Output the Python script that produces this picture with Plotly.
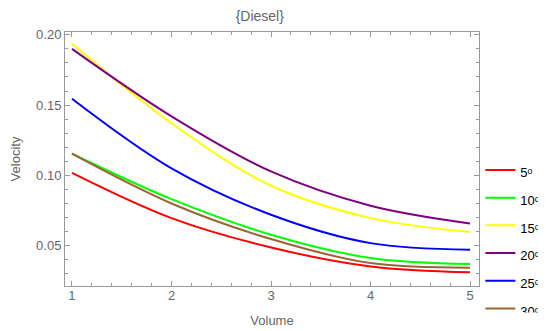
import plotly.graph_objects as go

volume = [1, 2, 3, 4, 5]
angles = ["5", "10", "15", "20", "25", "30"]
v5 = [0.1018, 0.0696, 0.0487, 0.0352, 0.0310]
v10 = [0.1154, 0.0831, 0.0578, 0.0412, 0.0369]
v15 = [0.1936, 0.1370, 0.0926, 0.0696, 0.0597]
v20 = [0.1900, 0.1420, 0.1028, 0.0784, 0.0658]
v25 = [0.1545, 0.1050, 0.0720, 0.0518, 0.0471]
v30 = [0.1154, 0.0800, 0.0547, 0.0376, 0.0343]
series = [v5, v10, v15, v20, v25, v30]
colors = ["#FF0000", "#00FF00", "#FFFF00", "#800080", "#0000FF", "#996633"]

fig = go.Figure()
for a, ys, c in zip(angles, series, colors):
    fig.add_trace(go.Scatter(x=volume, y=ys, mode="lines",
                             name=f"<span style='font-size:13px'>{a}\u1d52</span>",
                             line=dict(color=c, width=2, shape="spline", smoothing=1.0)))

# empty, invisible legend spacer so the last legend entry is not clipped
fig.add_trace(go.Scatter(x=[None], y=[None], mode="lines", name=" ",
                         line=dict(color="rgba(0,0,0,0)", width=0), hoverinfo="skip"))

axis_font = dict(family="Liberation Sans, Arial", size=13, color="#666666")
axis_common = dict(showgrid=False, zeroline=False, showline=True, linecolor="#999999",
                   linewidth=1, mirror="ticks", ticks="inside", tickcolor="#999999",
                   tickfont=axis_font)
fig.update_xaxes(range=[0.93, 5.09], tickvals=[1, 2, 3, 4, 5], ticklen=5,
                 minor=dict(ticks="inside", dtick=0.2, tick0=1, ticklen=3, tickcolor="#999999"),
                 ticklabelstandoff=-3,
                 title=dict(text="Volume", font=axis_font, standoff=14),
                 **axis_common)
fig.update_yaxes(range=[0.0213, 0.202], tickvals=[0.05, 0.10, 0.15, 0.20],
                 ticktext=["0.05", "0.10", "0.15", "0.20"], ticklen=5,
                 minor=dict(ticks="inside", dtick=0.01, tick0=0, ticklen=3, tickcolor="#999999"),
                 title=dict(text="Velocity", font=axis_font, standoff=15),
                 **axis_common)

# page body has an 8px margin, so the figure is drawn 8px smaller and offset
fig.update_layout(
    width=538, height=323,
    margin=dict(l=57, r=67, t=24, b=45, autoexpand=False),
    paper_bgcolor="white", plot_bgcolor="white",
    title=dict(text="{Diesel}", x=0.468, xanchor="center", y=0.975, yanchor="middle",
               font=dict(family="Liberation Sans, Arial", size=14, color="#666666")),
    legend=dict(xref="container", yref="container", x=0.878, y=0.557, xanchor="left", yanchor="top",
                bgcolor="rgba(0,0,0,0)", borderwidth=0,
                font=dict(family="Liberation Sans, Arial", size=19, color="#000000"),
                itemwidth=30),
    showlegend=True,
)

fig.write_html("out.html")
